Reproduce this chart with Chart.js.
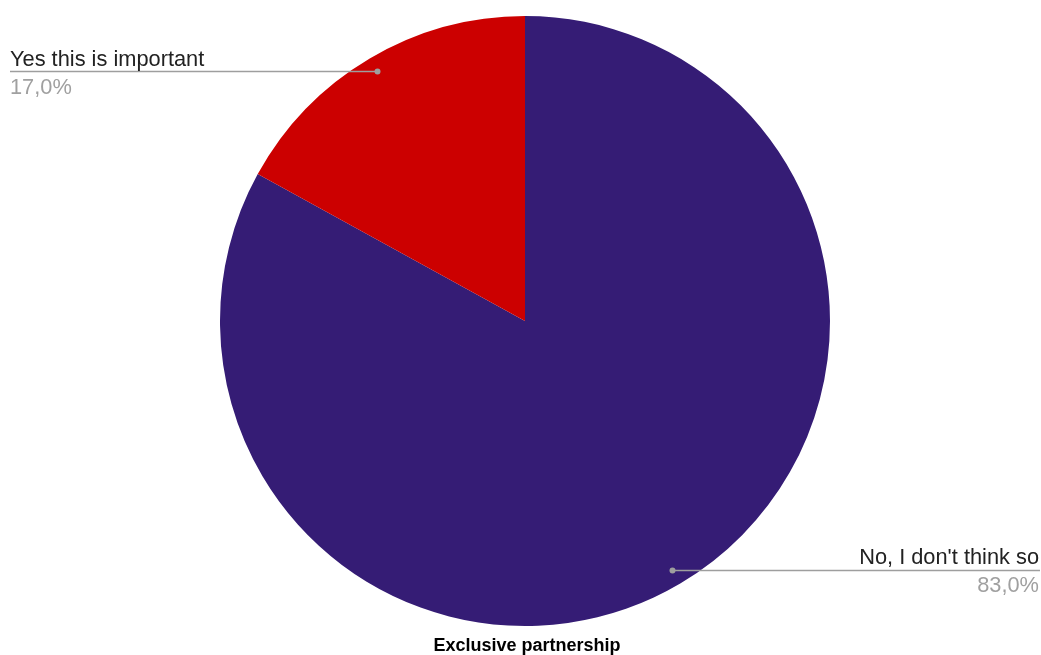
<!DOCTYPE html>
<html lang="en">
<head>
  <meta charset="UTF-8">
  <title>Exclusive partnership</title>
  <script src="https://cdn.jsdelivr.net/npm/chart.js"></script>
  <style>
    html, body { margin: 0; padding: 0; background: #fff; }
    #pie { display: block; }
  </style>
</head>
<body>
  <canvas id="pie" width="1041" height="655"></canvas>

  <script>
    // Survey answers
    const answers = ["No, I don't think so", "Yes this is important"];
    const shares = [83.0, 17.0];
    const sliceColors = ['#351c75', '#cc0000'];
    const chartTitle = 'Exclusive partnership';

    // Leader lines + labels drawn next to each slice, and the title underneath
    const sliceLabels = {
      id: 'sliceLabels',
      afterDraw(chart) {
        const ctx = chart.ctx;
        const arcs = chart.getDatasetMeta(0).data;
        ctx.save();
        arcs.forEach((arc, i) => {
          const mid = (arc.startAngle + arc.endAngle) / 2;
          const r = arc.outerRadius * 0.95;
          const px = arc.x + Math.cos(mid) * r;
          const py = arc.y + Math.sin(mid) * r;
          const toRight = Math.cos(mid) > 0;
          const endX = toRight ? chart.width - 2 : 10;

          ctx.strokeStyle = '#9e9e9e';
          ctx.lineWidth = 1.5;
          ctx.beginPath();
          ctx.moveTo(px, py);
          ctx.lineTo(toRight ? chart.width - 1 : 10, py);
          ctx.stroke();

          ctx.fillStyle = '#9e9e9e';
          ctx.beginPath();
          ctx.arc(px, py, 3, 0, Math.PI * 2);
          ctx.fill();

          ctx.textAlign = toRight ? 'right' : 'left';
          ctx.textBaseline = 'alphabetic';
          ctx.font = '21.8px "Liberation Sans", Arial, sans-serif';
          ctx.fillStyle = '#222222';
          ctx.fillText(answers[i], endX, py - 6);
          ctx.fillStyle = '#a0a0a0';
          ctx.fillText(shares[i].toFixed(1).replace('.', ',') + '%', endX, py + 22);
        });

        ctx.textAlign = 'center';
        ctx.font = 'bold 18px "Liberation Sans", Arial, sans-serif';
        ctx.fillStyle = '#000000';
        ctx.fillText(chartTitle, 527, 651);
        ctx.restore();
      }
    };

    new Chart(document.getElementById('pie').getContext('2d'), {
      type: 'pie',
      data: {
        labels: answers,
        datasets: [{
          data: shares,
          backgroundColor: sliceColors,
          borderWidth: 0
        }]
      },
      options: {
        responsive: false,
        animation: false,
        layout: { padding: { top: 16, bottom: 29, left: 220, right: 211 } },
        plugins: {
          legend: { display: false },
          tooltip: { enabled: false }
        }
      },
      plugins: [sliceLabels]
    });
  </script>
</body>
</html>
